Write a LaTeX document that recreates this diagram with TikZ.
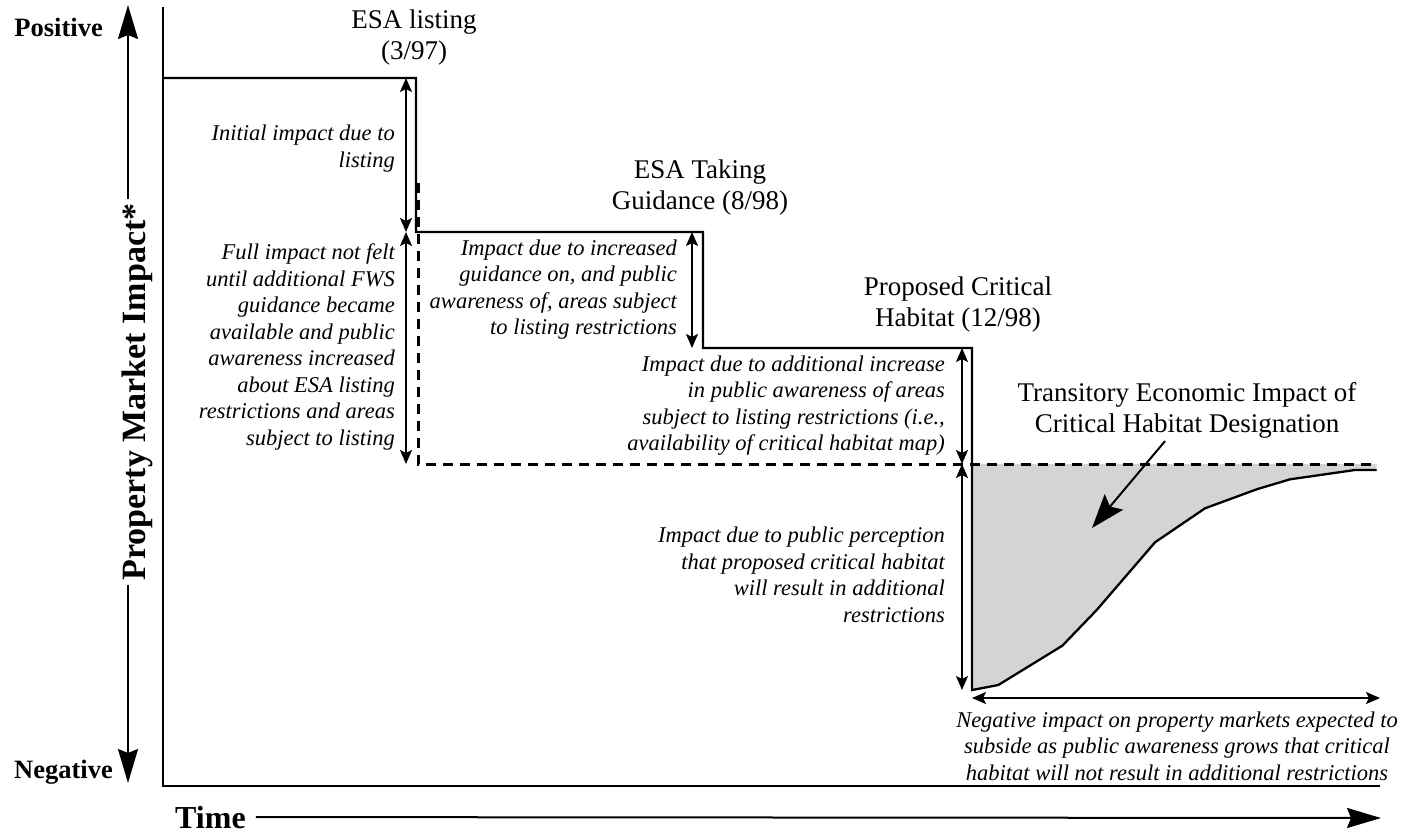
\documentclass[tikz,border=0pt]{standalone}
\usepackage{fontspec}
\setmainfont{Liberation Serif}
\usetikzlibrary{arrows.meta}
\begin{document}
\begin{tikzpicture}[x=1pt,y=-1pt,
  note/.style={font=\fontsize{22.5}{26.5}\selectfont\itshape, align=right, anchor=east, inner sep=0pt},
  head/.style={font=\fontsize{27}{31}\selectfont, align=center, inner sep=0pt},
  axlab/.style={font=\fontsize{26.5}{30}\selectfont\bfseries, inner sep=0pt},
  dbl/.style={line width=2pt, {Stealth[length=14pt,width=12pt,inset=3pt]}-{Stealth[length=14pt,width=12pt,inset=3pt]}},
  big/.style={line width=2pt, -{Stealth[length=34pt,width=20pt,inset=4pt]}},
  stepline/.style={line width=2.3pt},
  dashline/.style={line width=3pt, dash pattern=on 10pt off 7pt},
  frame/.style={line width=2pt},
]
\useasboundingbox (0,0) rectangle (1404,833);

% axes
\coordinate (ytop) at (128,5);
\coordinate (ybot) at (128,783);
\coordinate (f0) at (163,7);
\coordinate (f1) at (163,786);
\coordinate (f2) at (1380,786);
\coordinate (tend) at (1381,818);

\node[axlab, anchor=base east] (pos) at (103,36) {Positive};
\node[axlab, anchor=base east] (neg) at (113,778) {Negative};
\node[font=\fontsize{34}{38}\selectfont\bfseries, rotate=90, inner sep=4pt] (ylab) at (137,392) {Property Market Impact*};
\node[font=\fontsize{32}{36}\selectfont\bfseries, anchor=base west, inner sep=0pt] (time) at (175,828) {Time};

\draw[big] (ytop |- ylab.east) -- (ytop);
\draw[big] (ybot |- ylab.west) -- (ybot);
\draw[big] ([xshift=10pt]time.east) -- (tend);
\draw[frame] (f0) -- (f1) -- (f2);

% step coordinates
\coordinate (s0) at (163,78);
\coordinate (s1) at (416,78);
\coordinate (s2) at (416,232);
\coordinate (s3) at (703,232);
\coordinate (s4) at (703,348);
\coordinate (s5) at (972,348);
\coordinate (s6) at (972,690);
\coordinate (c1) at (998.3,685);
\coordinate (c2) at (1062.3,645.7);
\coordinate (c3) at (1096.7,610);
\coordinate (c4) at (1155,542.3);
\coordinate (c5) at (1205,508.3);
\coordinate (c6) at (1256.7,489.3);
\coordinate (c7) at (1290,479.3);
\coordinate (c8) at (1355,470);
\coordinate (c9) at (1376.7,470);
\coordinate (d1) at (418,183);
\coordinate (d2) at (418,464);
\coordinate (d3) at (1373,464);

% shaded transitory region
\fill[black!17] (972,464) -- (s6) -- (c1) -- (c2) -- (c3) -- (c4) -- (c5) -- (c6) -- (c7) -- (c8) -- (c9) -- (1376.7,464) -- cycle;

% dashed baseline
\draw[dashline] (d1) -- (d2) -- (d3);

% step line
\draw[stepline, line join=miter] (s0) -- (s1) -- (s2) -- (s3) -- (s4) -- (s5) -- (s6) -- (c1) -- (c2) -- (c3) -- (c4) -- (c5) -- (c6) -- (c7) -- (c8) -- (c9);

% double arrows
\draw[dbl] ([xshift=-10pt]s1) -- ([xshift=-10pt]s2);
\draw[dbl] ([xshift=-10pt]s2) -- ([xshift=-12pt]d2);
\draw[dbl] ([xshift=-11pt]s3) -- ([xshift=-11pt]s4);
\draw[dbl] ([xshift=-10pt]s5) -- (962,464);
\draw[dbl] (962,464) -- ([xshift=-10pt]s6);
\coordinate (h0) at (972,698);
\coordinate (h1) at (1380,698);
\draw[dbl] (h0) -- (h1);

% headings
\node[head] (esa) at (414,38) {ESA listing\\(3/97)};
\node[head] (take) at (700,188) {ESA Taking\\Guidance (8/98)};
\node[head] (prop) at (958,304) {Proposed Critical\\Habitat (12/98)};
\node[head] (trans) at (1187,410) {Transitory Economic Impact of\\Critical Habitat Designation};
\draw[line width=2pt, -{Stealth[length=34pt,width=24pt,inset=6pt]}] ([xshift=-22pt,yshift=-3pt]trans.south) -- (1092,528);

% notes
\node[note] (n1) at (395,148.5) {Initial impact due to\\listing};
\node[note] (n2) at (395,347) {Full impact not felt\\until additional FWS\\guidance became\\available and public\\awareness increased\\about ESA listing\\restrictions and areas\\subject to listing};
\node[note] (n3) at (677,289.5) {Impact due to increased\\guidance on, and public\\awareness of, areas subject\\to listing restrictions};
\node[note] (n4) at (945,405.5) {Impact due to additional increase\\in public awareness of areas\\subject to listing restrictions (i.e.,\\availability of critical habitat map)};
\node[note] (n5) at (945,575) {Impact due to public perception\\that proposed critical habitat\\will result in additional\\restrictions};
\node[note, align=center, anchor=center] (n6) at (1177,746) {Negative impact on property markets expected to\\subside as public awareness grows that critical\\habitat will not result in additional restrictions};
\end{tikzpicture}
\end{document}
